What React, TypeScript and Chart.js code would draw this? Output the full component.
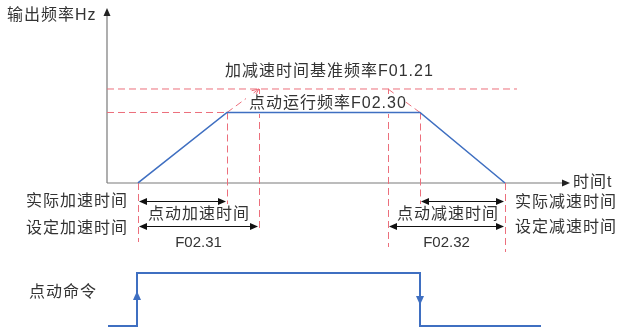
import React, { useEffect, useRef } from "react";
import { Chart, registerables } from "chart.js";
Chart.register(...registerables);

// ---- data (time in diagram units, origin on the frequency axis) ----
const JOG_FREQ = 30; // 点动运行频率 F02.30
const BASE_FREQ = 40; // 加减速时间基准频率 F01.21
const outputTimes = [31, 120, 313, 398]; // start, accel end, decel start, stop
const outputFreqs = [0, JOG_FREQ, JOG_FREQ, 0];
const setAccelEnd = 152; // 设定加速时间 end
const setDecelStart = 281; // 设定减速时间 start
const baseLineEnd = 410;
const timeAxisEnd = 463;
const commandTimes = [1, 30, 30, 313, 313, 434];
const commandLevels = [0, 0, 1, 1, 0, 0];

const BLUE = "#3f6fc1";
const RED = "#ec6f7c";
const GRAY = "#7a7a7a";
const TEXT = "#333333";
const CJK = '"Liberation Sans", "Noto Sans CJK SC", sans-serif';

function toPts(xs: number[], ys: number[]) {
  return xs.map((x, i) => ({ x, y: ys[i] }));
}

function arrowHead(ctx: CanvasRenderingContext2D, x: number, y: number, dir: "l" | "r" | "u" | "d", len = 7, hw = 3.5) {
  ctx.beginPath();
  ctx.moveTo(x, y);
  if (dir === "r") { ctx.lineTo(x - len, y - hw); ctx.lineTo(x - len, y + hw); }
  if (dir === "l") { ctx.lineTo(x + len, y - hw); ctx.lineTo(x + len, y + hw); }
  if (dir === "u") { ctx.lineTo(x - hw, y + len); ctx.lineTo(x + hw, y + len); }
  if (dir === "d") { ctx.lineTo(x - hw, y - len); ctx.lineTo(x + hw, y - len); }
  ctx.closePath();
  ctx.fill();
}

const diagramPlugin = {
  id: "diagram",
  beforeDatasetsDraw(chart: any) {
    const ctx: CanvasRenderingContext2D = chart.ctx;
    const xs = chart.scales.x;
    const ys = chart.scales.y;
    const X = (v: number) => xs.getPixelForValue(v);
    const Y = (v: number) => ys.getPixelForValue(v);
    ctx.save();
    // axes
    ctx.strokeStyle = GRAY;
    ctx.lineWidth = 1.2;
    ctx.beginPath();
    ctx.moveTo(X(0), Y(0));
    ctx.lineTo(X(0), 12);
    ctx.moveTo(X(0), Y(0));
    ctx.lineTo(X(timeAxisEnd) - 4, Y(0));
    ctx.stroke();
    ctx.fillStyle = "#222";
    arrowHead(ctx, X(0), 8, "u", 8, 3.5);
    arrowHead(ctx, X(timeAxisEnd), Y(0), "r", 8, 3.5);

    // vertical guides
    ctx.strokeStyle = RED;
    ctx.lineWidth = 1;
    ctx.setLineDash([7, 4]);
    const guides: [number, number, number][] = [
      [outputTimes[0], 0, 242],
      [outputTimes[1], JOG_FREQ, 212],
      [setAccelEnd, BASE_FREQ, 228],
      [setDecelStart, BASE_FREQ, 247],
      [outputTimes[2], JOG_FREQ, 212],
      [outputTimes[3], 0, 252],
    ];
    for (const [t, f, bottom] of guides) {
      ctx.beginPath();
      ctx.moveTo(Math.round(X(t)) + 0.5, Y(f));
      ctx.lineTo(Math.round(X(t)) + 0.5, bottom);
      ctx.stroke();
    }
    ctx.setLineDash([]);
    ctx.restore();
  },
  beforeDatasetDraw(chart: any, args: any) {
    // after all red dashed references, before the blue signals: labels on white boxes
    if (args.index !== 1) return;
    const ctx: CanvasRenderingContext2D = chart.ctx;
    const xs = chart.scales.x;
    const ys = chart.scales.y;
    const X = (v: number) => xs.getPixelForValue(v);
    const Y = (v: number) => ys.getPixelForValue(v);
    ctx.save();
    // extension arrow tip
    {
      const x0 = X(outputTimes[1]), y0 = Y(JOG_FREQ), x1 = X(setAccelEnd), y1 = Y(BASE_FREQ);
      const a = Math.atan2(y1 - y0, x1 - x0);
      ctx.beginPath();
      ctx.moveTo(x1, y1);
      ctx.lineTo(x1 - 7 * Math.cos(a) + 3 * Math.sin(a), y1 - 7 * Math.sin(a) - 3 * Math.cos(a));
      ctx.moveTo(x1, y1);
      ctx.lineTo(x1 - 7 * Math.cos(a) - 3 * Math.sin(a), y1 - 7 * Math.sin(a) + 3 * Math.cos(a));
      ctx.strokeStyle = RED;
      ctx.lineWidth = 1;
      ctx.stroke();
    }
    // white masks behind labels
    ctx.fillStyle = "#ffffff";
    ctx.fillRect(246, 94, 160, 20);
    ctx.fillRect(145, 204, 108, 21);
    ctx.fillRect(394, 204, 104, 21);

    ctx.fillStyle = TEXT;
    ctx.textBaseline = "middle";
    ctx.textAlign = "left";
    (ctx as any).letterSpacing = "1px";
    ctx.font = `16px ${CJK}`;
    ctx.fillText("输出频率Hz", 7, 16);
    ctx.fillText("加减速时间基准频率F01.21", 225, 72);
    ctx.fillText("点动运行频率F02.30", 249, 104);
    ctx.fillText("实际加速时间", 26, 202);
    ctx.fillText("设定加速时间", 26, 229);
    ctx.fillText("点动加速时间", 148, 215);
    ctx.fillText("点动减速时间", 397, 215);
    ctx.fillText("实际减速时间", 515, 203);
    ctx.fillText("设定减速时间", 515, 228);
    ctx.fillText("时间t", 573, 183);
    ctx.fillText("点动命令", 29, 293);
    (ctx as any).letterSpacing = "0px";
    ctx.font = `15px "Liberation Sans", sans-serif`;
    ctx.textAlign = "center";
    ctx.fillText("F02.31", (X(outputTimes[0]) + X(setAccelEnd)) / 2, 243);
    ctx.fillText("F02.32", (X(setDecelStart) + X(outputTimes[3])) / 2, 243);
    ctx.restore();
  },
  afterDatasetsDraw(chart: any) {
    const ctx: CanvasRenderingContext2D = chart.ctx;
    const xs = chart.scales.x;
    const X = (v: number) => xs.getPixelForValue(v);
    ctx.save();
    // double arrows
    ctx.strokeStyle = "#111";
    ctx.fillStyle = "#111";
    ctx.lineWidth = 1;
    const dbl: [number, number, number][] = [
      [outputTimes[0], outputTimes[1], 201],
      [outputTimes[0], setAccelEnd, 226],
      [outputTimes[2], outputTimes[3], 201],
      [setDecelStart, outputTimes[3], 226],
    ];
    for (const [a, b, y] of dbl) {
      const xa = X(a) + 1, xb = X(b) - 1;
      ctx.beginPath();
      ctx.moveTo(xa + 3, y + 0.5);
      ctx.lineTo(xb - 3, y + 0.5);
      ctx.stroke();
      arrowHead(ctx, xa, y + 0.5, "l", 8, 3.5);
      arrowHead(ctx, xb, y + 0.5, "r", 8, 3.5);
    }
    // command edge arrows
    ctx.fillStyle = BLUE;
    arrowHead(ctx, X(commandTimes[1]), 291, "u", 9, 4);
    arrowHead(ctx, X(commandTimes[3]), 305, "d", 9, 4);
    ctx.restore();
  },
};

export default function App() {
  const ref = useRef<HTMLCanvasElement | null>(null);
  useEffect(() => {
    if (!ref.current) return;
    const dashed = { showLine: true, borderColor: RED, borderWidth: 1, borderDash: [7, 4], pointRadius: 0 };
    const chart = new Chart(ref.current, {
      type: "scatter",
      data: {
        datasets: [
          {
            label: "输出频率",
            data: toPts(outputTimes, outputFreqs),
            showLine: true,
            borderColor: BLUE,
            borderWidth: 1.6,
            pointRadius: 0,
            order: 0,
          },
          {
            label: "点动命令",
            data: toPts(commandTimes, commandLevels),
            yAxisID: "y2",
            showLine: true,
            borderColor: BLUE,
            borderWidth: 2,
            pointRadius: 0,
            order: 1,
          },
          { label: "基准频率", data: [{ x: 0, y: BASE_FREQ }, { x: baseLineEnd, y: BASE_FREQ }], ...dashed, order: 2 },
          { label: "点动频率", data: [{ x: 0, y: JOG_FREQ }, { x: outputTimes[1], y: JOG_FREQ }], ...dashed, order: 3 },
          { label: "加速延长", data: [{ x: outputTimes[1], y: JOG_FREQ }, { x: setAccelEnd, y: BASE_FREQ }], ...dashed, order: 4 },
          { label: "减速延长", data: [{ x: setDecelStart, y: BASE_FREQ }, { x: outputTimes[2], y: JOG_FREQ }], ...dashed, order: 5 },
        ],
      },
      options: {
        animation: false,
        responsive: false,
        events: [],
        layout: { padding: 0 },
        plugins: { legend: { display: false }, tooltip: { enabled: false } },
        scales: {
          x: { type: "linear", min: -107, max: 511, display: false },
          y: { type: "linear", min: -63.83, max: 77.87, display: false },
          y2: { type: "linear", min: -0.132, max: 6.151, display: false },
        },
      },
      plugins: [diagramPlugin],
    });
    return () => chart.destroy();
  }, []);
  return (
    <div style={{ position: "fixed", left: 0, top: 0, width: 618, height: 333, background: "#fff" }}>
      <canvas ref={ref} width={618} height={333} />
    </div>
  );
}
